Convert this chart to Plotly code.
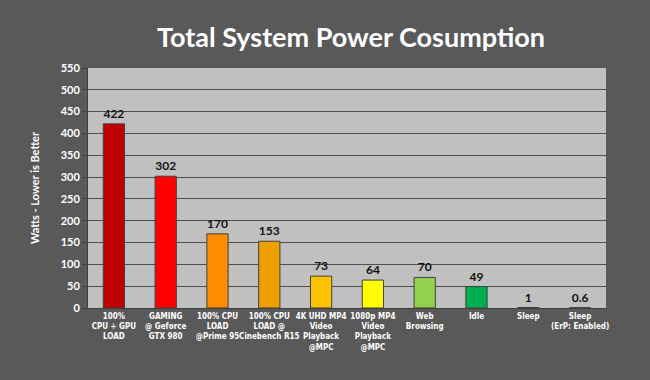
import plotly.graph_objects as go

categories = [
    "100%<br>CPU + GPU<br>LOAD",
    "GAMING<br>@ Geforce<br>GTX 980",
    "100% CPU<br>LOAD<br>@Prime 95",
    "100% CPU<br>LOAD @<br>Cinebench R15",
    "4K UHD MP4<br>Video<br>Playback<br>@MPC",
    "1080p MP4<br>Video<br>Playback<br>@MPC",
    "Web<br>Browsing",
    "Idle",
    "Sleep",
    "Sleep<br>(ErP: Enabled)",
]
watts = [422, 302, 170, 153, 73, 64, 70, 49, 1, 0.6]
value_labels = ["422", "302", "170", "153", "73", "64", "70", "49", "1", "0.6"]
bar_colors = ["#C00000", "#FF0000", "#FF8C00", "#EBA000", "#FFC000",
              "#FFFF00", "#92D050", "#00B050", "#3A3A3A", "#3A3A3A"]
y_ticks = list(range(0, 551, 50))

FONT = "Lato"
NARROW = "DejaVu Sans Condensed, Lato"

fig = go.Figure()
fig.add_trace(go.Bar(
    x=list(range(len(categories))),
    y=watts,
    width=0.41,
    marker=dict(color=bar_colors, line=dict(color="#404040", width=1)),
    text=value_labels,
    textposition="outside",
    cliponaxis=False,
    hoverinfo="skip",
    textfont=dict(family=FONT, size=12, color="#111111", weight="bold"),
))

fig.update_layout(
    width=650, height=380,
    paper_bgcolor="#595959",
    plot_bgcolor="#C0C0C0",
    margin=dict(l=88, r=44, t=68, b=72),
    showlegend=False,
    title=dict(
        text="<b>Total System Power Cosumption</b>",
        x=0.54, xanchor="center", y=0.9, yanchor="middle",
        font=dict(family=FONT, size=27, color="white"),
    ),
    xaxis=dict(
        tickmode="array",
        tickvals=list(range(len(categories))),
        ticktext=categories,
        range=[-0.5, len(categories) - 0.5],
        tickfont=dict(family=NARROW, size=8, color="white", weight="bold"),
        showgrid=False,
        showline=True, linecolor="#404040", linewidth=1,
        ticks="",
        tickangle=0,
        automargin=False,
    ),
    yaxis=dict(
        range=[0, 550],
        tickvals=y_ticks,
        tickfont=dict(family=FONT, size=11, color="white", weight="bold"),
        showgrid=True, gridcolor="#4F4F4F", gridwidth=1,
        showline=True, linecolor="#404040", linewidth=1,
        ticks="outside", ticklen=5, tickcolor="#404040",
        zeroline=False,
        automargin=False,
        title=dict(text="<b>Watts - Lower is Better</b>",
                   font=dict(family=FONT, size=11, color="white"),
                   standoff=18),
    ),
)

fig.write_html(
    "out.html",
    config={"displayModeBar": False},
    post_script="document.body.style.margin='0';document.body.style.padding='0';",
)
